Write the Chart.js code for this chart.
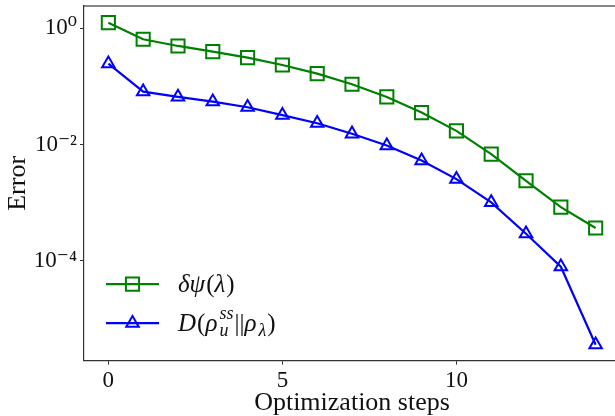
<!DOCTYPE html>
<html>
<head>
<meta charset="utf-8">
<script src="https://cdn.jsdelivr.net/npm/chart.js@4/dist/chart.umd.min.js"></script>
<style>
  html, body { margin: 0; padding: 0; background: #fff; overflow: hidden; }
  #wrap { width: 615px; height: 416px; overflow: hidden; position: relative; }
  #errChart { display: block; }
</style>
</head>
<body>
<div id="wrap"><canvas id="errChart" width="640" height="416"></canvas></div>
<script>
// data
var steps = [0, 1, 2, 3, 4, 5, 6, 7, 8, 9, 10, 11, 12, 13, 14];
var psiError = [1.25, 0.647, 0.497, 0.396, 0.313, 0.234, 0.166, 0.109, 0.066, 0.0355, 0.0172, 0.00684, 0.00238, 0.00084, 0.000366];
var relEntropy = [0.246, 0.0814, 0.066, 0.0548, 0.0439, 0.032, 0.0233, 0.0153, 0.0096, 0.0053, 0.00254, 0.00101, 0.000292, 0.000079, 0.0000036];
var seriesNames = ["δψ(λ)", "D(ρ_u^ss||ρ_λ)"];
var xTicks = [0, 5, 10];
var yTicks = [1, 1e-2, 1e-4];
var yTickLabels = ["10⁰", "10⁻²", "10⁻⁴"];

// pieces for the legend text: [text, kind]; kind i = italic, r = upright, s = sub+sup
var legendPieces = [
  [["δψ", "i"], ["(", "r"], ["λ", "i"], [")", "r"]],
  [["D", "i"], ["(", "r"], ["ρ", "i"], [["u", "ss"], "s"], ["||", "r"], ["ρ", "i"], [["λ", ""], "s"], [")", "r"]]
];

var SERIF = '"Liberation Serif", "DejaVu Serif", serif';

function pts(ys) {
  return steps.map(function(s, i) { return { x: s, y: ys[i] }; });
}

function drawMarker(ctx, style, x, y, r, color, lw) {
  ctx.save();
  ctx.strokeStyle = color;
  ctx.lineWidth = lw;
  ctx.beginPath();
  if (style === "rect") {
    var h = r * Math.SQRT1_2;
    ctx.rect(x - h, y - h, 2 * h, 2 * h);
  } else {
    ctx.moveTo(x, y - r);
    ctx.lineTo(x + r * 0.866, y + r / 2);
    ctx.lineTo(x - r * 0.866, y + r / 2);
    ctx.closePath();
  }
  ctx.stroke();
  ctx.restore();
}

// legend drawn by hand so the sub/superscripts come out
var scriptLegend = {
  id: "scriptLegend",
  afterDraw: function(chart) {
    var ctx = chart.ctx, area = chart.chartArea;
    var x0 = area.left + 22;
    chart.data.datasets.forEach(function(ds, i) {
      var y = area.bottom - 76.5 + i * 39;
      ctx.save();
      ctx.strokeStyle = ds.borderColor;
      ctx.lineWidth = ds.borderWidth;
      ctx.beginPath();
      ctx.moveTo(x0, y);
      ctx.lineTo(x0 + 53, y);
      ctx.stroke();
      ctx.restore();
      drawMarker(ctx, ds.pointStyle, x0 + 26.5, y, ds.pointRadius, ds.borderColor, ds.pointBorderWidth);

      var tx = x0 + 72;
      ctx.save();
      ctx.fillStyle = "#111";
      ctx.textBaseline = "middle";
      legendPieces[i].forEach(function(p) {
        if (p[1] === "s") {
          ctx.font = "italic 18px " + SERIF;
          var w1 = ctx.measureText(p[0][0]).width;
          var w2 = ctx.measureText(p[0][1]).width;
          ctx.fillText(p[0][0], tx + 1, y + 8);
          if (p[0][1]) ctx.fillText(p[0][1], tx + 1, y - 9);
          tx += Math.max(w1, w2) + 2;
        } else {
          ctx.font = (p[1] === "i" ? "italic " : "") + "25px " + SERIF;
          ctx.fillText(p[0], tx, y + 1);
          tx += ctx.measureText(p[0]).width + (p[1] === "i" ? 1 : 0);
        }
      });
      ctx.restore();
    });
  }
};

// top spine; the right spine sits past the visible edge
var frame = {
  id: "frame",
  afterDraw: function(chart) {
    var ctx = chart.ctx, a = chart.chartArea;
    ctx.save();
    ctx.strokeStyle = "#111";
    ctx.lineWidth = 1.2;
    ctx.beginPath();
    ctx.moveTo(a.left, a.top);
    ctx.lineTo(a.right, a.top);
    ctx.lineTo(a.right, a.bottom);
    ctx.stroke();
    ctx.restore();
  }
};

var ctx = document.getElementById("errChart").getContext("2d");
var errChart = new Chart(ctx, {
  type: "line",
  data: {
    datasets: [{
      label: seriesNames[0],
      data: pts(psiError),
      borderColor: "#008000",
      backgroundColor: "rgba(0,0,0,0)",
      borderWidth: 2.2,
      pointStyle: "rect",
      pointRadius: 9.3,
      pointBorderWidth: 2,
      pointBackgroundColor: "rgba(0,0,0,0)",
      pointBorderColor: "#008000",
      tension: 0
    }, {
      label: seriesNames[1],
      data: pts(relEntropy),
      borderColor: "#0000ff",
      backgroundColor: "rgba(0,0,0,0)",
      borderWidth: 2.2,
      pointStyle: "triangle",
      pointRadius: 7.2,
      pointBorderWidth: 2,
      pointBackgroundColor: "rgba(0,0,0,0)",
      pointBorderColor: "#0000ff",
      tension: 0
    }]
  },
  options: {
    responsive: false,
    animation: false,
    layout: { autoPadding: false, padding: { top: 6, right: 20, left: 0, bottom: 0 } },
    plugins: {
      legend: { display: false },
      tooltip: { enabled: false }
    },
    scales: {
      x: {
        type: "linear",
        min: -0.7,
        max: 14.7,
        afterBuildTicks: function(s) { s.ticks = xTicks.map(function(v) { return { value: v }; }); },
        afterFit: function(s) { s.height = 55.3; s.paddingLeft = 0; s.paddingRight = 0; },
        grid: { drawOnChartArea: false, drawTicks: true, tickLength: 4, tickWidth: 1, color: "#333" },
        border: { display: true, color: "#333", width: 1.2 },
        ticks: { color: "#111", padding: 2, font: { family: SERIF, size: 23 } },
        title: { display: true, text: "Optimization steps", color: "#111", padding: { top: 0, bottom: 0 }, font: { family: SERIF, size: 26, lineHeight: 1.0 } }
      },
      y: {
        type: "logarithmic",
        min: 1.91e-6,
        max: 2.42,
        afterBuildTicks: function(s) { s.ticks = yTicks.map(function(v) { return { value: v, major: true }; }); },
        afterFit: function(s) { s.width = 84; s.paddingTop = 0; s.paddingBottom = 0; },
        grid: { drawOnChartArea: false, drawTicks: true, tickLength: 4, tickWidth: 1, color: "#333" },
        border: { display: true, color: "#333", width: 1.2 },
        ticks: {
          color: "#111",
          padding: 3,
          font: { family: SERIF, size: 23 },
          callback: function(v) {
            var i = yTicks.indexOf(v);
            return i < 0 ? "" : yTickLabels[i];
          }
        },
        title: { display: true, text: "Error", color: "#111", padding: { top: 3, bottom: 0 }, font: { family: SERIF, size: 26 } }
      }
    }
  },
  plugins: [scriptLegend, frame]
});
</script>
</body>
</html>
